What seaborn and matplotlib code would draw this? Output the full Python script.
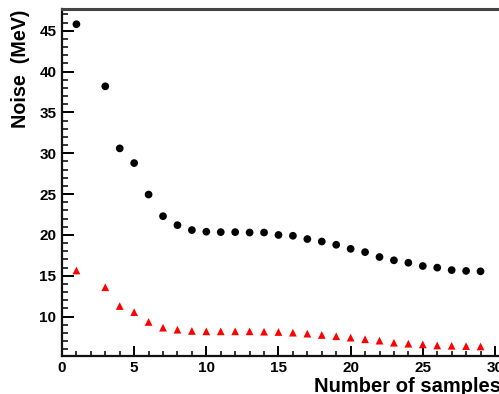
import numpy as np
import pandas as pd
import matplotlib
matplotlib.use("Agg")
import matplotlib.pyplot as plt
from matplotlib.ticker import MultipleLocator
import seaborn as sns

# ---- data ----
samples = [1, 3, 4, 5, 6, 7, 8, 9, 10, 11, 12, 13, 14, 15, 16, 17, 18, 19, 20,
           21, 22, 23, 24, 25, 26, 27, 28, 29]
noise_total = [45.8, 38.2, 30.6, 28.8, 24.95, 22.3, 21.2, 20.6, 20.4, 20.35,
               20.35, 20.3, 20.3, 20.0, 19.9, 19.5, 19.2, 18.8, 18.3, 17.9,
               17.3, 16.9, 16.6, 16.2, 16.0, 15.7, 15.6, 15.55]
noise_other = [15.65, 13.6, 11.3, 10.55, 9.35, 8.65, 8.4, 8.25, 8.2, 8.2,
               8.2, 8.2, 8.16, 8.12, 8.04, 7.92, 7.76, 7.6, 7.43, 7.23,
               7.06, 6.81, 6.69, 6.6, 6.47, 6.43, 6.39, 6.35]
x_label = "Number of samples"
y_label = "Noise  (MeV)"

df = pd.DataFrame({
    "samples": samples * 2,
    "noise": noise_total + noise_other,
    "series": ["total"] * len(samples) + ["other"] * len(samples),
})

sns.set_theme(style="white")
plt.rcParams["font.family"] = ["Liberation Sans", "DejaVu Sans"]
plt.rcParams["font.weight"] = "bold"
plt.rcParams["text.color"] = "black"
plt.rcParams["axes.labelcolor"] = "black"
plt.rcParams["xtick.color"] = "black"
plt.rcParams["ytick.color"] = "black"

fig = plt.figure(figsize=(4.99, 3.94), dpi=100)
ax_h = (355.7 - 8.7) / 394
ax = fig.add_axes([62 / 499, 38.3 / 394, 1 - 62 / 499, ax_h])

sns.scatterplot(data=df, x="samples", y="noise", hue="series", style="series",
                palette={"total": "black", "other": "#ff0000"},
                markers={"total": "o", "other": "^"},
                s=31, edgecolor="none", linewidth=0, legend=False, ax=ax)

ax.set_xlim(0, 30.28)
ax.set_ylim(5.22, 47.7)

ax.xaxis.set_major_locator(MultipleLocator(5))
ax.xaxis.set_minor_locator(MultipleLocator(1))
ax.yaxis.set_major_locator(MultipleLocator(5))
ax.yaxis.set_minor_locator(MultipleLocator(1))
ax.set_yticks([10, 15, 20, 25, 30, 35, 40, 45])

ax.tick_params(axis="both", which="both", direction="in", colors="black",
               labelsize=11, pad=4)
ax.tick_params(axis="y", which="major", length=8.6, width=1.4)
ax.tick_params(axis="y", which="minor", length=4.4, width=1.1)
ax.tick_params(axis="x", which="major", length=7.2, width=1.4)
ax.tick_params(axis="x", which="minor", length=3.8, width=1.1)
ax.tick_params(axis="y", which="both", left=True, right=False)
ax.tick_params(axis="x", which="both", bottom=True, top=False)
for lab in ax.get_xticklabels() + ax.get_yticklabels():
    lab.set_fontweight("bold")
    lab.set_color("black")

for side in ["left", "bottom"]:
    ax.spines[side].set_visible(True)
    ax.spines[side].set_color("#111111")
    ax.spines[side].set_linewidth(1.6)
ax.spines["top"].set_visible(True)
ax.spines["top"].set_color("#444444")
ax.spines["top"].set_linewidth(2.2)
ax.spines["right"].set_visible(False)

ax.set_xlabel(x_label, fontsize=14.5, fontweight="bold", loc="right",
              color="black")
ax.set_ylabel(y_label, fontsize=14.2, fontweight="bold", loc="top",
              color="black")
ax.xaxis.label.set_verticalalignment("baseline")
ax.xaxis.set_label_coords((501 - 62) / 437, -(392 - 355.7) / (ax_h * 394))
ax.yaxis.set_label_coords((30 - 62) / 437, 1 - (10 - 8.7) / (ax_h * 394))

fig.savefig("out.png", dpi=100)
